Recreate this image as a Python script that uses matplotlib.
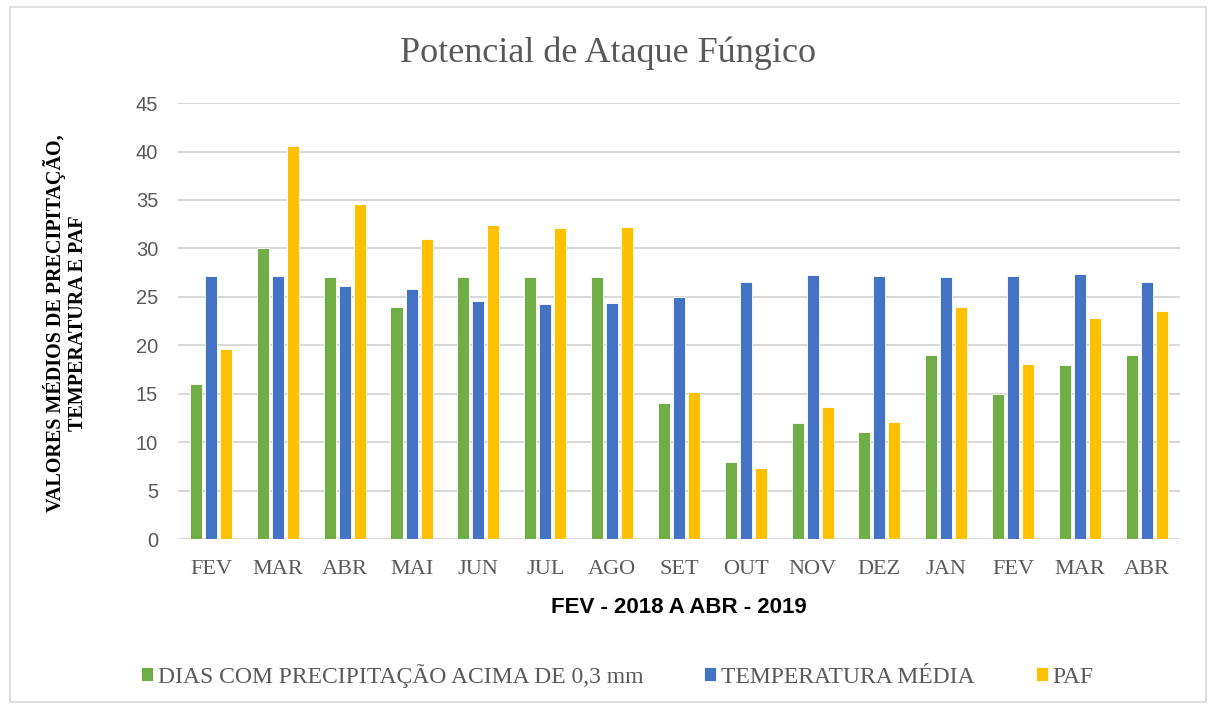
import matplotlib
matplotlib.use("Agg")
import matplotlib.pyplot as plt
import numpy as np
from matplotlib.patches import Rectangle

months = ["FEV", "MAR", "ABR", "MAI", "JUN", "JUL", "AGO", "SET",
          "OUT", "NOV", "DEZ", "JAN", "FEV", "MAR", "ABR"]
dias_chuva = [16, 30, 27, 24, 27, 27, 27, 14, 8, 12, 11, 19, 15, 18, 19]
temp_media = [27.2, 27.1, 26.1, 25.8, 24.55, 24.3, 24.4, 25.0, 26.5, 27.25,
              27.2, 27.0, 27.1, 27.4, 26.55]
paf = [19.6, 40.6, 34.6, 31.0, 32.4, 32.1, 32.2, 15.15, 7.3, 13.6, 12.05,
       23.9, 18.1, 22.8, 23.5]

series_names = ["DIAS COM PRECIPITAÇÃO ACIMA DE 0,3 mm", "TEMPERATURA MÉDIA", "PAF"]
colors = ["#70ad47", "#4472c4", "#ffc000"]
gray = "#595959"
serif = "Liberation Serif"
sans = "Liberation Sans"

fig = plt.figure(figsize=(12.08, 7.06), dpi=100)
ax = fig.add_axes([0.147, 0.2365, 0.83, 0.6175])

x = np.arange(len(months))
offset = 0.225
width = 0.18
for i, (vals, name, col) in enumerate(zip([dias_chuva, temp_media, paf], series_names, colors)):
    ax.bar(x + (i - 1) * offset, vals, width=width, color=col, label=name,
           edgecolor="white", linewidth=0.6, zorder=3)

ax.set_xlim(-0.5, len(months) - 0.5)
ax.set_ylim(0, 45)
ax.set_yticks(range(0, 46, 5))
ax.yaxis.grid(True, color="#d9d9d9", linewidth=1.5, zorder=0)
ax.set_axisbelow(True)
for s in ax.spines.values():
    s.set_visible(False)
ax.tick_params(length=0)
ax.tick_params(axis="y", labelsize=14.5, labelcolor=gray, pad=14)
ax.tick_params(axis="x", pad=15)
ax.set_xticks(x)
ax.set_xticklabels(months, fontsize=16, color=gray, family=serif)
for lab in ax.get_yticklabels():
    lab.set_family(sans)

ax.set_xlabel("FEV - 2018 A ABR - 2019", fontsize=16, fontweight="bold",
              family=sans, labelpad=13)
fig.text(0.054, 0.5425, "VALORES MÉDIOS DE PRECIPITAÇÃO,\nTEMPERATURA E PAF",
         rotation=90, ha="center", va="center", fontsize=14.5,
         fontweight="bold", family=serif, linespacing=1.15)

fig.suptitle("Potencial de Ataque Fúngico", x=0.503, y=0.948, fontsize=26,
             color=gray, family=serif)

leg = fig.legend(loc="center", bbox_to_anchor=(0.511, 0.043), ncol=3, frameon=False,
                 handlelength=0.5, handleheight=0.55, handletextpad=0.2,
                 columnspacing=2.6, prop={"family": serif, "size": 17})
for t in leg.get_texts():
    t.set_color(gray)

fig.patches.append(Rectangle((0.008, 0.005), 0.99, 0.985, transform=fig.transFigure,
                             fill=False, edgecolor="#d9d9d9", linewidth=1.2))

fig.savefig("out.png", dpi=100)
